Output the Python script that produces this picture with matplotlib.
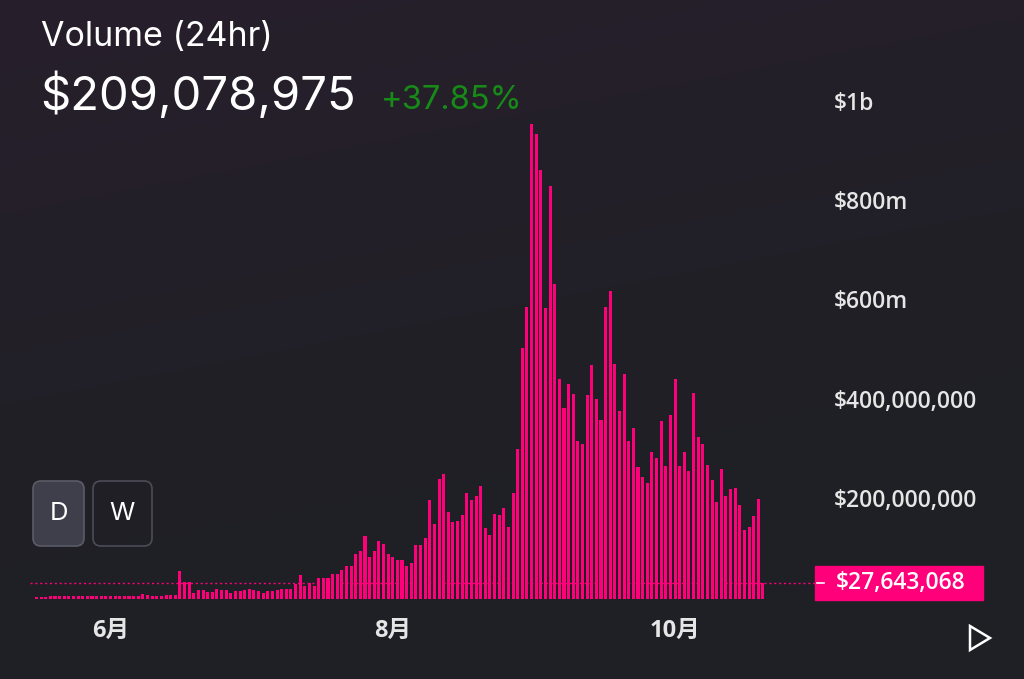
import numpy as np
import pandas as pd
import matplotlib
matplotlib.use('Agg')
import matplotlib.pyplot as plt
from matplotlib.patches import FancyBboxPatch, Polygon, Rectangle

# daily volume (millions of USD), one bar per day from 2023-05-16
vol_may_jun = [0.2, 0.2, 0.8, 1.2, 1.2, 1.2, 1.3, 1.4, 1.8, 1.8, 1.3, 1.3, 1.8, 1.8, 1.3,
               1.4, 1.8, 1.9, 1.4, 1.3, 1.9, 1.8, 1.4, 5.5, 3.2, 3.0, 2.0, 1.4, 4.5]
vol_jun_jul = [5, 5, 52, 31, 31, 9, 14, 14, 11, 11, 17, 14, 14, 9, 12, 12, 15, 17, 14, 12,
               9, 12, 12, 15, 17, 17, 17, 27]
vol_jul_aug = [44, 23, 29, 23, 38, 38, 38, 46, 46, 54, 63, 63, 87, 92, 122, 81, 92, 113, 107,
               87, 81, 75, 75, 63, 69, 104, 104, 119]
vol_aug = [195, 147, 238, 247, 171, 151, 153, 165, 209, 195, 203, 223, 139, 125, 168, 165,
           180, 142, 209, 299]
vol_sep_a = [502, 584, 953, 933, 860, 582, 828, 630, 439, 381, 429, 409, 314, 309, 407]
vol_sep_b = [468, 398, 357, 584, 616, 470, 375, 450, 314, 340, 261, 241, 229, 293, 281, 354,
             264, 366, 439, 264]
vol_oct = [293, 253, 412, 322, 308, 267, 235, 192, 258, 203, 218, 220, 186, 136, 142, 163,
           197, 27.643068]

volume = np.array(vol_may_jun + vol_jun_jul + vol_jul_aug + vol_aug + vol_sep_a + vol_sep_b + vol_oct)
dates = pd.date_range('2023-05-16', periods=len(volume), freq='D')

ytick_vals = [200, 400, 600, 800, 1000]
ytick_labels = ['$200,000,000', '$400,000,000', '$600m', '$800m', '$1b']
xtick_dates = pd.to_datetime(['2023-06-01', '2023-08-01', '2023-10-01'])
xtick_labels = ['6月', '8月', '10月']

title = 'Volume (24hr)'
total_label = '$209,078,975'
change_label = '+37.85%'
last_label = '$27,643,068'

PINK = '#ff007a'
W, H = 1024, 679
fig = plt.figure(figsize=(W / 100, H / 100), dpi=100)

# background + decorations in pixel coordinates
bg = fig.add_axes([0, 0, 1, 1])
bg.set_xlim(0, W)
bg.set_ylim(H, 0)
bg.axis('off')
top = np.array([0x27, 0x1f, 0x2c]) / 255
bot = np.array([0x1f, 0x20, 0x25]) / 255
yy, xx = np.mgrid[0:1:120j, 0:1:160j]
t = np.clip(0.75 * yy * 1.6 + 0.35 * xx, 0, 1)[..., None]
grad = top * (1 - t) + bot * t
bg.imshow(grad, extent=(0, W, H, 0), aspect='auto', interpolation='bilinear', zorder=0)

bg.text(41, 46, title, fontsize=24.5, color='white', family=['Inter', 'DejaVu Sans'], va='baseline')
bg.text(40, 110, total_label, fontsize=34, color='white', family=['Inter', 'DejaVu Sans'], va='baseline')
bg.text(381, 109, change_label, fontsize=23.5, color='#178a17', family=['Inter', 'DejaVu Sans'], va='baseline')

# D / W buttons
bg.add_patch(FancyBboxPatch((33, 481), 51, 65, boxstyle='round,pad=0,rounding_size=8',
                            fc='#3e3f4a', ec='#5b5c68', lw=1.2, zorder=2))
bg.add_patch(FancyBboxPatch((93, 481), 59, 65, boxstyle='round,pad=0,rounding_size=8',
                            fc='none', ec='#4c4c57', lw=1.2, zorder=2))
bg.text(58.5, 514, 'D', fontsize=18.5, color='white', ha='center', va='center',
        family=['Inter', 'DejaVu Sans'], zorder=3)
bg.text(122.5, 514, 'W', fontsize=18.5, color='white', ha='center', va='center',
        family=['Inter', 'DejaVu Sans'], zorder=3)

# play button
bg.add_patch(Polygon([(970, 626), (970, 650), (990, 638)], closed=True, fill=False,
                     ec='white', lw=1.8, joinstyle='miter', zorder=3))

# bar chart
ax = fig.add_axes([30 / W, 80 / H, 785 / W, 499 / H])
ax.patch.set_alpha(0)
ymin, ymax = -4, 1001.5
ax.set_ylim(ymin, ymax)
x0 = dates[0] - pd.Timedelta(days=1.4)
x1 = dates[0] + pd.Timedelta(days=168.25)
ax.set_xlim(x0, x1)

ax.bar(dates, volume - ymin, bottom=ymin, width=0.66, color=PINK, lw=0, zorder=2)

last = volume[-1]
ax.axhline(last, color=PINK, lw=1.0, dashes=(1.5, 2.0), zorder=3)

for s in ax.spines.values():
    s.set_visible(False)
ax.yaxis.tick_right()
ax.set_yticks(ytick_vals)
ax.set_yticklabels(ytick_labels)
ax.set_xticks(xtick_dates)
ax.set_xticklabels(xtick_labels)
ax.tick_params(axis='y', length=0, pad=13.5, labelcolor='#e6e6e6', labelsize=16.5)
ax.tick_params(axis='x', length=0, pad=14, labelcolor='#e6e6e6', labelsize=17)
for lab in ax.get_yticklabels():
    lab.set_family(['Open Sans', 'DejaVu Sans'])
    lab.set_fontweight('semibold')
for lab in ax.get_xticklabels():
    lab.set_family(['Open Sans', 'Noto Sans CJK SC', 'DejaVu Sans'])
    lab.set_fontweight('bold')

# last value marker on the price scale
ytr = ax.get_yaxis_transform()
ax.add_patch(Rectangle((1.0, last - 34), 168 / 785, 69, transform=ytr, color=PINK,
                       clip_on=False, zorder=4))
ax.plot([1.003, 1.0115], [last, last], transform=ytr, color='white', lw=1.2,
        clip_on=False, zorder=5)
ax.text(1.0 + 21 / 785, last, last_label, transform=ytr, color='white', fontsize=16.5,
        family=['Open Sans', 'DejaVu Sans'], fontweight='semibold', va='center', ha='left',
        zorder=5)

fig.savefig('out.png', dpi=100)
